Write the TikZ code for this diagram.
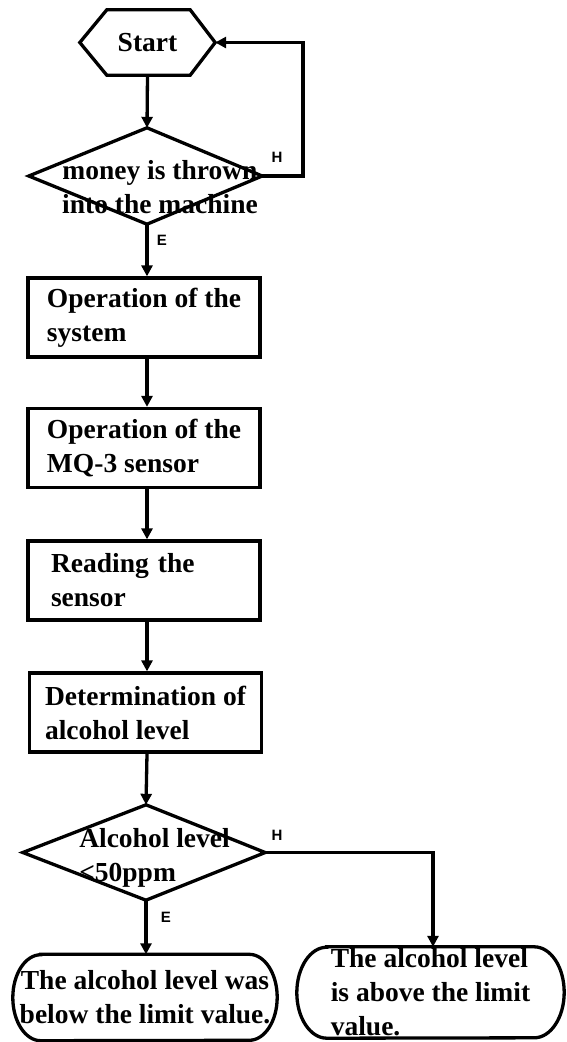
\documentclass[tikz,border=0pt]{standalone}
\usepackage{fontspec}
\setmainfont{Liberation Serif}
\newfontfamily\lblfont{Liberation Sans}
\usetikzlibrary{arrows.meta,calc}
\begin{document}
\begin{tikzpicture}[x=1pt,y=-1pt,
  line/.style={line width=3.3pt,line join=miter},
  arr/.style={line width=3.3pt,-{Triangle[length=11pt,width=11pt]}},
  txt/.style={font=\fontsize{27.5}{34}\selectfont\bfseries,inner sep=0pt},
  stepbox/.style={draw,line width=3.3pt,minimum width=232pt,minimum height=79pt,
    align=left,inner sep=0pt,font=\fontsize{27.5}{34}\selectfont\bfseries},
  term/.style={inner sep=0pt,font=\fontsize{27.5}{34}\selectfont\bfseries},
  shapebox/.style={inner sep=0pt},
  lbl/.style={font=\lblfont\bfseries\fontsize{15}{15}\selectfont,inner sep=0pt}
]
\useasboundingbox (0,0) rectangle (566,1042);

% Start hexagon
\node[shapebox,minimum width=135pt,minimum height=65pt,font=\fontsize{27.5}{34}\selectfont\bfseries] (start) at (147.5,42.5) {Start};
\draw[line] (start.west) -- ([xshift=27pt]start.north west) -- ([xshift=-25pt]start.north east)
  -- (start.east) -- ([xshift=-25pt]start.south east) -- ([xshift=27pt]start.south west) -- cycle;

% Decision 1
\node[shapebox,minimum width=233pt,minimum height=96pt] (d1) at (145.5,176) {};
\draw[line] (d1.west) -- ([xshift=1.5pt]d1.north) -- (d1.east) -- ([xshift=1.5pt]d1.south) -- cycle;
\node[txt,align=center] (d1t) at (160,187) {money is thrown\\into the machine};

% Process boxes
\node[stepbox] (b1) at (144,317.5) {Operation of the\\system};
\node[stepbox] (b2) at (144,448) {Operation of the\\MQ-3 sensor};
\node[stepbox,text width=186pt] (b3) at (144,580.5) {Reading the\\sensor};
\node[stepbox,minimum height=79pt] (b4) at (145.5,712.5) {Determination of\\alcohol level};

% Decision 2
\node[shapebox,minimum width=242pt,minimum height=95pt] (d2) at (144,852.5) {};
\draw[line] (d2.west) -- ([xshift=2pt]d2.north) -- (d2.east) -- ([xshift=2pt]d2.south) -- cycle;
\node[txt,align=left] (d2t) at (154.5,858) {Alcohol level\\<50ppm};

% Terminals (stadium shapes with elliptical ends)
\node[term,minimum width=264pt,minimum height=86pt,align=center] (t1) at (145,997.5) {The alcohol level was\\below the limit value.};
\draw[line] ([xshift=28pt]t1.north west) -- ([xshift=-28pt]t1.north east)
  arc[start angle=90,end angle=-90,x radius=28pt,y radius=43pt]
  -- ([xshift=28pt]t1.south west)
  arc[start angle=270,end angle=90,x radius=28pt,y radius=43pt] -- cycle;
\node[term,minimum width=267pt,minimum height=91pt,align=left] (t2) at (430.5,992.5) {The alcohol level\\is above the limit\\value.};
\draw[line] ([xshift=30pt]t2.north west) -- ([xshift=-30pt]t2.north east)
  arc[start angle=90,end angle=-90,x radius=30pt,y radius=45.5pt]
  -- ([xshift=30pt]t2.south west)
  arc[start angle=270,end angle=90,x radius=30pt,y radius=45.5pt] -- cycle;

% Connectors
\draw[arr] (start.south) -- ([xshift=1.5pt]d1.north);
\draw[arr] ([xshift=1.5pt]d1.south) -- ([xshift=1.5pt]d1.south |- b1.north);
\draw[arr] ([xshift=3pt]b1.south) -- ([xshift=3pt]b2.north);
\draw[arr] ([xshift=3pt]b2.south) -- ([xshift=3pt]b3.north);
\draw[arr] ([xshift=3pt]b3.south) -- ([xshift=3pt]b3.south |- b4.north);
\draw[arr] ([xshift=1.5pt]b4.south) -- ([xshift=2pt]d2.north);
\draw[arr] ([xshift=2pt]d2.south) -- ([xshift=2pt]d2.south |- t1.north);

\coordinate (loopA) at (303,176);
\coordinate (loopB) at (303,42.5);
\draw[arr] (d1.east) -- (loopA) -- (loopB) -- (start.east);
\coordinate (hB) at (433,852.5);
\draw[arr] (d2.east) -- (hB) -- (hB |- t2.north);

% Labels
\node[lbl] (h1) at (277,157) {H};
\node[lbl] (e1) at (162,240) {E};
\node[lbl] (h2) at (277,835) {H};
\node[lbl] (e2) at (166,917) {E};
\end{tikzpicture}
\end{document}
